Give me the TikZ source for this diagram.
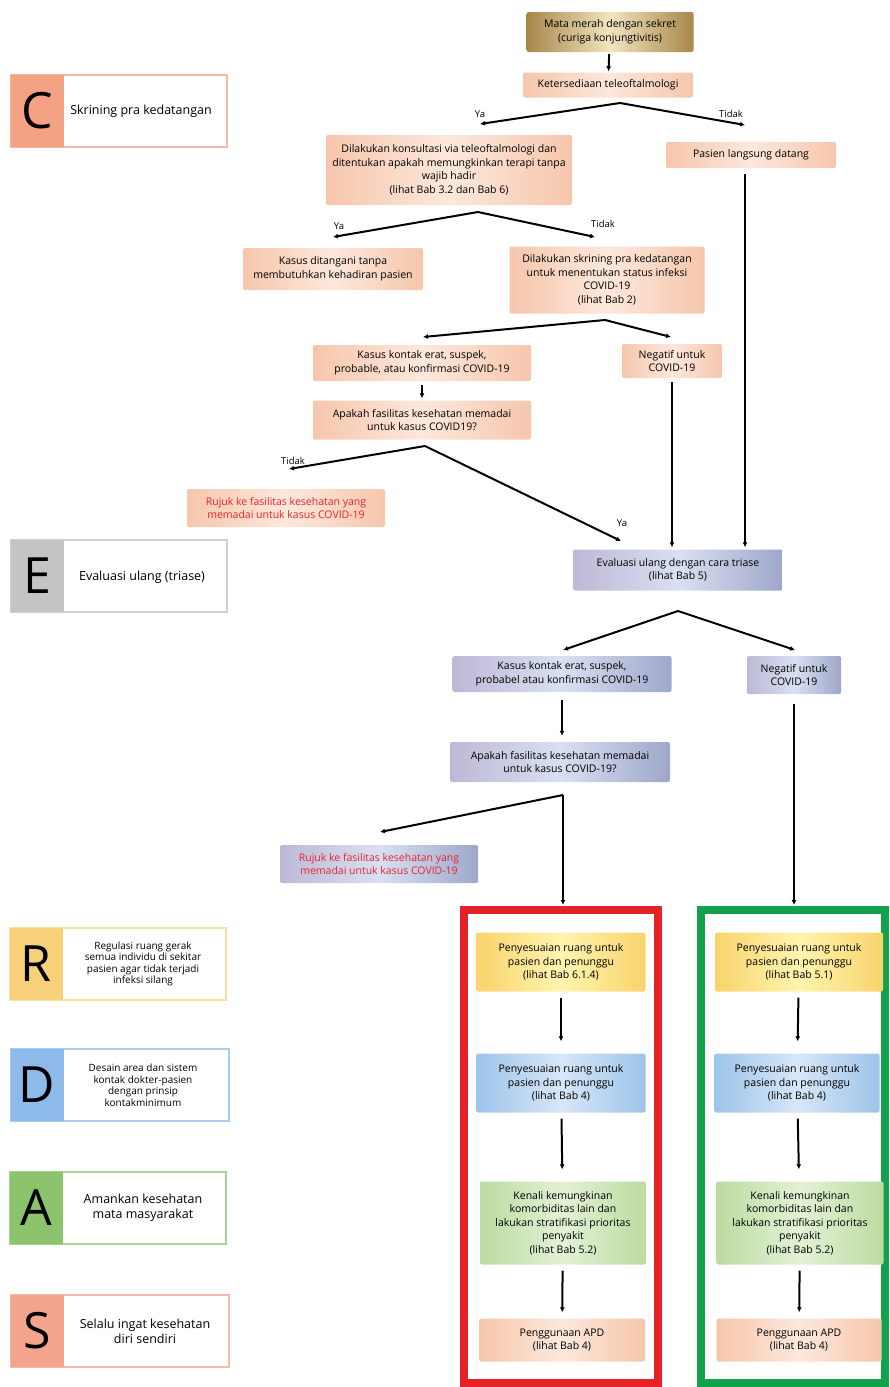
\documentclass[tikz,border=0pt]{standalone}
\usepackage{fontspec}
\setmainfont{Open Sans}
\usetikzlibrary{arrows.meta,positioning}

\definecolor{peachD}{HTML}{F6C6AC}
\definecolor{peachL}{HTML}{FDE8DC}
\definecolor{goldD}{HTML}{A8874A}
\definecolor{goldL}{HTML}{F1E4BF}
\definecolor{slateL}{HTML}{BDB8D6}
\definecolor{slateM}{HTML}{D9E0F1}
\definecolor{slateD}{HTML}{9EA7CB}
\definecolor{yelD}{HTML}{F8D46C}
\definecolor{yelL}{HTML}{FFF4B0}
\definecolor{bluD}{HTML}{9EC4EA}
\definecolor{bluL}{HTML}{D6E7F7}
\definecolor{grnD}{HTML}{BBDBA0}
\definecolor{grnL}{HTML}{E3F1D6}
\definecolor{txtRed}{HTML}{E5252A}
\definecolor{frRed}{HTML}{E52228}
\definecolor{frGreen}{HTML}{11A24A}
\definecolor{keyC}{HTML}{F3A283}
\definecolor{keyE}{HTML}{C4C4C4}
\definecolor{keyR}{HTML}{F7D07A}
\definecolor{keyD}{HTML}{8DBAE8}
\definecolor{keyA}{HTML}{8BC46D}
\definecolor{keyS}{HTML}{F2A48D}
\definecolor{rimC}{HTML}{F4B9A2}
\definecolor{rimE}{HTML}{CFCFCF}
\definecolor{rimR}{HTML}{F5E2A3}
\definecolor{rimD}{HTML}{A9CCEF}
\definecolor{rimA}{HTML}{A8D490}
\definecolor{rimS}{HTML}{F4BBA9}

\begin{document}
\begin{tikzpicture}[x=1pt,y=-1pt,>={Latex[length=5pt,width=5pt]},
 font=\fontsize{10.5}{13.5}\selectfont,
 box/.style={align=center,inner sep=2pt,rounded corners=2pt},
 pch/.style={box,left color=peachD,right color=peachD,middle color=peachL},
 gld/.style={box,left color=goldD,right color=goldD,middle color=goldL},
 slt/.style={box,left color=slateL,right color=slateD,middle color=slateM},
 yel/.style={box,left color=yelD,right color=yelD,middle color=yelL},
 blu/.style={box,left color=bluD,right color=bluD,middle color=bluL},
 grn/.style={box,left color=grnD,right color=grnD,middle color=grnL},
 link/.style={line width=2pt,->},
 tag/.style={font=\fontsize{9.5}{11}\selectfont,inner sep=1pt},
 frame/.style={line width=8pt,inner sep=0pt},
 leg/.style={line width=1.2pt,fill=white,minimum width=216,minimum height=72,inner sep=0pt},
 legkey/.style={minimum width=53,minimum height=72,inner sep=0pt,font=\fontsize{50}{50}\selectfont},
 legtxt/.style={align=center,font=\fontsize{12.5}{15}\selectfont},
 legsmall/.style={align=center,font=\fontsize{10}{11.5}\selectfont}]
\useasboundingbox (0,0) rectangle (889,1387);

% legend
\node[leg,draw=rimC] (legC) at (119,111) {};
\node[legkey,fill=keyC,anchor=west] (kC) at (legC.west) {C};
\node[legtxt] (tC) at (141,111) {Skrining pra kedatangan};
\node[leg,draw=rimE] (legE) at (119,576) {};
\node[legkey,fill=keyE,anchor=west] (kE) at (legE.west) {E};
\node[legtxt] (tE) at (142,577) {Evaluasi ulang (triase)};
\node[leg,draw=rimR] (legR) at (118,964) {};
\node[legkey,fill=keyR,anchor=west] (kR) at (legR.west) {R};
\node[legsmall] (tR) at (143,964) {Regulasi ruang gerak\\semua individu di sekitar\\pasien agar tidak terjadi\\infeksi silang};
\node[leg,draw=rimD,minimum width=218] (legD) at (120,1085) {};
\node[legkey,fill=keyD,anchor=west] (kD) at (legD.west) {D};
\node[legsmall] (tD) at (143,1085) {Desain area dan sistem\\kontak dokter-pasien\\dengan prinsip\\kontakminimum};
\node[leg,draw=rimA] (legA) at (118,1208) {};
\node[legkey,fill=keyA,anchor=west] (kA) at (legA.west) {A};
\node[legtxt] (tA) at (143,1208) {Amankan kesehatan\\mata masyarakat};
\node[leg,draw=rimS,minimum width=218] (legS) at (120,1331) {};
\node[legkey,fill=keyS,anchor=west] (kS) at (legS.west) {S};
\node[legtxt] (tS) at (145,1331) {Selalu ingat kesehatan\\diri sendiri};

% pre-arrival screening
\node[gld,minimum width=167,minimum height=40] (mata) at (610,32) {Mata merah dengan sekret\\(curiga konjungtivitis)};
\node[pch,minimum width=170,minimum height=25] (keter) at (608,85) {Ketersediaan teleoftalmologi};
\node[pch,minimum width=246,minimum height=70] (konsul) at (449,170) {Dilakukan konsultasi via teleoftalmologi dan\\ditentukan apakah memungkinkan terapi tanpa\\wajib hadir\\(lihat Bab 3.2 dan Bab 6)};
\node[pch,minimum width=170,minimum height=26] (datang) at (751,155) {Pasien langsung datang};
\node[pch,minimum width=180,minimum height=42] (tanpa) at (333,269) {Kasus ditangani tanpa\\membutuhkan kehadiran pasien};
\node[pch,minimum width=195,minimum height=67] (skrin) at (607,280) {Dilakukan skrining pra kedatangan\\untuk menentukan status infeksi\\COVID-19\\(lihat Bab 2)};
\node[pch,minimum width=218,minimum height=36] (kontak1) at (422,363) {Kasus kontak erat, suspek,\\probable, atau konfirmasi COVID-19};
\node[pch,minimum width=100,minimum height=34] (neg1) at (672,361) {Negatif untuk\\COVID-19};
\node[pch,minimum width=218,minimum height=39] (fasil1) at (422,420) {Apakah fasilitas kesehatan memadai\\untuk kasus COVID19?};
\node[pch,minimum width=198,minimum height=38,text=txtRed] (rujuk1) at (286,508) {Rujuk ke fasilitas kesehatan yang\\memadai untuk kasus COVID-19};

% triage
\node[slt,minimum width=209,minimum height=41] (triase) at (678,570) {Evaluasi ulang dengan cara triase\\(lihat Bab 5)};
\node[slt,minimum width=219,minimum height=36] (kontak2) at (562,674) {Kasus kontak erat, suspek,\\probabel atau konfirmasi COVID-19};
\node[slt,minimum width=94,minimum height=38] (neg2) at (794,675) {Negatif untuk\\COVID-19};
\node[slt,minimum width=220,minimum height=40] (fasil2) at (560,762) {Apakah fasilitas kesehatan memadai\\untuk kasus COVID-19?};
\node[slt,minimum width=198,minimum height=38,text=txtRed] (rujuk2) at (379,864) {Rujuk ke fasilitas kesehatan yang\\memadai untuk kasus COVID-19};

% two columns
\node[frame,draw=frRed,minimum width=194,minimum height=473] (redfr) at (560.5,1146.5) {};
\node[frame,draw=frGreen,minimum width=184,minimum height=473] (grnfr) at (793,1146.5) {};
\node[yel,minimum width=169,minimum height=59] (rA) at (561,962) {Penyesuaian ruang untuk\\pasien dan penunggu\\(lihat Bab 6.1.4)};
\node[blu,minimum width=169,minimum height=59] (rB) at (561,1083) {Penyesuaian ruang untuk\\pasien dan penunggu\\(lihat Bab 4)};
\node[grn,minimum width=166,minimum height=83] (rC) at (563,1223) {Kenali kemungkinan\\komorbiditas lain dan\\lakukan stratifikasi prioritas\\penyakit\\(lihat Bab 5.2)};
\node[pch,minimum width=166,minimum height=43] (rD) at (562,1340) {Penggunaan APD\\(lihat Bab 4)};
\node[yel,minimum width=168,minimum height=59] (gA) at (799,962) {Penyesuaian ruang untuk\\pasien dan penunggu\\(lihat Bab 5.1)};
\node[blu,minimum width=165,minimum height=59] (gB) at (797,1083) {Penyesuaian ruang untuk\\pasien dan penunggu\\(lihat Bab 4)};
\node[grn,minimum width=167,minimum height=83] (gC) at (800,1223) {Kenali kemungkinan\\komorbiditas lain dan\\lakukan stratifikasi prioritas\\penyakit\\(lihat Bab 5.2)};
\node[pch,minimum width=165,minimum height=43] (gD) at (799,1340) {Penggunaan APD\\(lihat Bab 4)};

% split points
\coordinate (s1) at (620,103);
\coordinate (s1a) at (480,124);
\coordinate (s1b) at (745,125);
\coordinate (s2) at (478,212);
\coordinate (s2a) at (333,237);
\coordinate (s2b) at (595,237);
\coordinate (s3) at (605,320);
\coordinate (s3a) at (423,337);
\coordinate (s3b) at (671,337);
\coordinate (s4) at (425,446);
\coordinate (s4a) at (289,469);
\coordinate (s4b) at (621,541);
\coordinate (s5) at (678,611);
\coordinate (s5a) at (563,650);
\coordinate (s5b) at (795,650);
\coordinate (s6) at (563,795);
\coordinate (s6a) at (380,832);

% connectors
\draw[link,shorten <=2,shorten >=1] (mata) -- (keter);
\draw[link] (s1) -- (s1a) node[tag,pos=1,above=4pt] {Ya};
\draw[link] (s1) -- (s1b) node[tag,pos=1,above=5pt,xshift=-14] {Tidak};
\draw[link] (s2) -- (s2a) node[tag,pos=1,above=5pt,xshift=6] {Ya};
\draw[link] (s2) -- (s2b) node[tag,pos=1,above=7pt,xshift=8] {Tidak};
\draw[link] (s3) -- (s3a);
\draw[link] (s3) -- (s3b);
\draw[link,shorten <=4,shorten >=2] (kontak1) -- (fasil1);
\draw[link] (s4) -- (s4a) node[tag,pos=1,above=2pt,xshift=4] {Tidak};
\draw[link] (s4) -- (s4b) node[tag,pos=0.88,above right=2pt,xshift=16] {Ya};
\draw[link,shorten <=4,shorten >=2] (neg1.south) -- (neg1.south |- triase.north);
\draw[link,shorten <=6,shorten >=2] ([xshift=-6]datang.south) -- ([xshift=-6]datang.south |- triase.north);
\draw[link] (s5) -- (s5a);
\draw[link] (s5) -- (s5b);
\draw[link,shorten <=8,shorten >=6] (kontak2) -- (kontak2 |- fasil2.north);
\draw[link] (s6) -- (s6a);
\draw[link,shorten >=1] (s6) -- (s6 |- redfr.north);
\draw[link,shorten <=10,shorten >=1] (neg2.south) -- (neg2.south |- grnfr.north);
\draw[link,shorten <=6,shorten >=12] (rA) -- (rB);
\draw[link,shorten <=6,shorten >=12] (rB) -- (rC);
\draw[link,shorten <=6,shorten >=6] (rC) -- (rD);
\draw[link,shorten <=6,shorten >=12] (gA) -- (gB);
\draw[link,shorten <=6,shorten >=12] (gB) -- (gC);
\draw[link,shorten <=6,shorten >=6] (gC) -- (gD);
\end{tikzpicture}
\end{document}
